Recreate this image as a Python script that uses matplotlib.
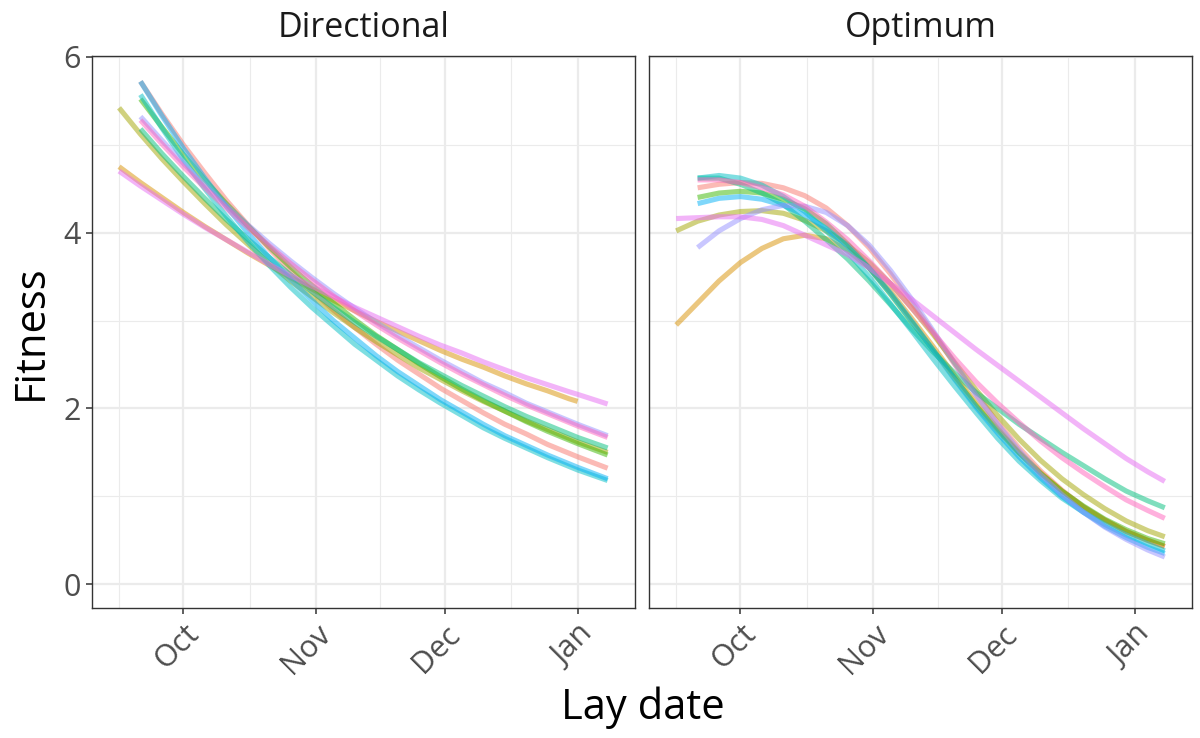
import numpy as np
import matplotlib
matplotlib.use("Agg")
import matplotlib.pyplot as plt
import matplotlib.dates as mdates

plt.rcParams['font.family'] = ['Open Sans', 'DejaVu Sans']

nan = np.nan

first_day = np.datetime64('2019-09-16')

# days after 16 Sep at which the fitted curves were read
dir_days = [0, 5, 10, 15, 20, 25, 30, 35, 40, 45, 50, 55, 60, 65, 70, 75, 80, 85, 90, 95, 100, 105, 107, 114]
opt_days = [0, 5, 10, 15, 20, 25, 30, 35, 40, 45, 50, 55, 60, 65, 70, 75, 80, 85, 90, 95, 100, 105, 110, 114]

# ggplot hue palette, one colour per group
group_colors = ['#F8766D', '#D89000', '#A3A500', '#39B600', '#00BF7D',
                '#00BFC4', '#00B0F6', '#9590FF', '#E76BF3', '#FF62BC']

# Directional panel
dir_g1 = [nan, 5.72, 5.35, 5.00, 4.68, 4.37, 4.09, 3.82, 3.57, 3.34, 3.12, 2.92, 2.73, 2.55,
          2.39, 2.23, 2.09, 1.95, 1.82, 1.71, 1.59, 1.49, 1.45, 1.32]
dir_g2 = [4.75, 4.57, 4.40, 4.23, 4.07, 3.92, 3.77, 3.63, 3.49, 3.36, 3.23, 3.11, 2.99, 2.88,
          2.77, 2.66, 2.56, 2.47, 2.37, 2.28, 2.20, 2.11, 2.08, nan]
dir_g3 = [5.42, 5.12, 4.84, 4.58, 4.33, 4.09, 3.87, 3.65, 3.45, 3.27, 3.09, 2.92, 2.76, 2.61,
          2.46, 2.33, 2.20, 2.08, 1.97, 1.86, 1.76, 1.66, 1.62, 1.50]
dir_g4 = [nan, 5.52, 5.20, 4.89, 4.60, 4.33, 4.08, 3.84, 3.61, 3.40, 3.20, 3.01, 2.83, 2.67,
          2.51, 2.36, 2.22, 2.09, 1.97, 1.85, 1.74, 1.64, 1.60, 1.47]
dir_g5 = [nan, 5.18, 4.90, 4.64, 4.39, 4.15, 3.93, 3.72, 3.52, 3.33, 3.15, 2.98, 2.82, 2.67,
          2.52, 2.39, 2.26, 2.14, 2.02, 1.91, 1.81, 1.71, 1.67, 1.55]
dir_g6 = [nan, 5.57, 5.19, 4.83, 4.50, 4.19, 3.90, 3.63, 3.38, 3.15, 2.94, 2.73, 2.55, 2.37,
          2.21, 2.06, 1.92, 1.78, 1.66, 1.55, 1.44, 1.34, 1.30, 1.18]
dir_g7 = [nan, 5.72, 5.33, 4.96, 4.62, 4.30, 4.00, 3.72, 3.47, 3.23, 3.00, 2.80, 2.60, 2.42,
          2.26, 2.10, 1.96, 1.82, 1.69, 1.58, 1.47, 1.37, 1.33, 1.20]
dir_g8 = [nan, 5.32, 5.05, 4.79, 4.54, 4.31, 4.09, 3.88, 3.68, 3.49, 3.31, 3.14, 2.98, 2.83,
          2.69, 2.55, 2.42, 2.29, 2.18, 2.06, 1.96, 1.86, 1.82, 1.69]
dir_g9 = [4.70, 4.53, 4.37, 4.21, 4.06, 3.92, 3.78, 3.64, 3.51, 3.39, 3.27, 3.15, 3.04, 2.93,
          2.82, 2.72, 2.63, 2.53, 2.44, 2.35, 2.27, 2.19, 2.16, 2.05]
dir_g10 = [nan, 5.28, 5.01, 4.75, 4.51, 4.28, 4.06, 3.85, 3.65, 3.46, 3.28, 3.11, 2.95, 2.80,
           2.66, 2.52, 2.39, 2.27, 2.15, 2.04, 1.94, 1.84, 1.80, 1.67]

# Optimum panel
opt_g1 = [nan, 4.51, 4.55, 4.57, 4.56, 4.51, 4.42, 4.28, 4.08, 3.83, 3.53, 3.20, 2.86, 2.50,
          2.16, 1.84, 1.55, 1.29, 1.07, 0.88, 0.73, 0.60, 0.50, 0.43]
opt_g2 = [2.95, 3.20, 3.45, 3.66, 3.82, 3.93, 3.97, 3.93, 3.80, 3.60, 3.33, 3.02, 2.70, 2.37,
          2.06, 1.77, 1.50, 1.27, 1.06, 0.88, 0.73, 0.60, 0.50, 0.43]
opt_g3 = [4.02, 4.13, 4.20, 4.24, 4.25, 4.22, 4.14, 4.02, 3.86, 3.66, 3.42, 3.14, 2.84, 2.52,
          2.21, 1.92, 1.65, 1.41, 1.20, 1.02, 0.86, 0.72, 0.61, 0.54]
opt_g4 = [nan, 4.40, 4.45, 4.47, 4.45, 4.38, 4.27, 4.10, 3.87, 3.60, 3.30, 2.98, 2.66, 2.34,
          2.03, 1.75, 1.49, 1.26, 1.06, 0.89, 0.74, 0.62, 0.52, 0.46]
opt_g5 = [nan, 4.62, 4.62, 4.55, 4.45, 4.32, 4.13, 3.92, 3.70, 3.45, 3.18, 2.90, 2.64, 2.40,
          2.18, 2.00, 1.82, 1.66, 1.50, 1.35, 1.20, 1.06, 0.95, 0.87]
opt_g6 = [nan, 4.62, 4.65, 4.62, 4.54, 4.41, 4.24, 4.02, 3.78, 3.50, 3.19, 2.88, 2.56, 2.25,
          1.95, 1.66, 1.40, 1.18, 0.98, 0.82, 0.68, 0.56, 0.46, 0.38]
opt_g7 = [nan, 4.33, 4.39, 4.41, 4.38, 4.31, 4.20, 4.05, 3.85, 3.60, 3.31, 2.99, 2.66, 2.33,
          2.01, 1.72, 1.45, 1.21, 1.00, 0.82, 0.66, 0.53, 0.42, 0.35]
opt_g8 = [nan, 3.83, 4.02, 4.16, 4.26, 4.31, 4.30, 4.23, 4.08, 3.86, 3.57, 3.24, 2.88, 2.51,
          2.15, 1.82, 1.52, 1.25, 1.02, 0.82, 0.65, 0.51, 0.39, 0.31]
opt_g9 = [4.16, 4.17, 4.18, 4.18, 4.15, 4.08, 3.97, 3.86, 3.75, 3.60, 3.42, 3.24, 3.05, 2.86,
          2.67, 2.49, 2.31, 2.13, 1.95, 1.77, 1.60, 1.43, 1.28, 1.17]
opt_g10 = [nan, 4.60, 4.60, 4.57, 4.51, 4.43, 4.30, 4.12, 3.92, 3.68, 3.42, 3.14, 2.86, 2.57,
           2.30, 2.06, 1.84, 1.63, 1.44, 1.27, 1.11, 0.96, 0.84, 0.75]

panels = [
    ("Directional", dir_days,
     [dir_g1, dir_g2, dir_g3, dir_g4, dir_g5, dir_g6, dir_g7, dir_g8, dir_g9, dir_g10]),
    ("Optimum", opt_days,
     [opt_g1, opt_g2, opt_g3, opt_g4, opt_g5, opt_g6, opt_g7, opt_g8, opt_g9, opt_g10]),
]

month_ticks = np.array(['2019-10-01', '2019-11-01', '2019-12-01', '2020-01-01'], dtype='datetime64[D]')
month_labels = ['Oct', 'Nov', 'Dec', 'Jan']

fig = plt.figure(figsize=(12, 7.38), dpi=100)

x_major = mdates.date2num(month_ticks)
x_minor = np.concatenate([[x_major[0] - 15], (x_major[:-1] + x_major[1:]) / 2])
x_lo = x_major[0] - 21.3
x_hi = x_major[-1] + 13.4

grey20 = '#333333'
for i, (name, days, series) in enumerate(panels):
    left = [0.0767, 0.5410][i]
    ax = fig.add_axes([left, 0.1762, 0.4525, 0.748])
    x = mdates.date2num(first_day + np.array(days, dtype='timedelta64[D]'))
    for vals, col in zip(series, group_colors):
        ax.plot(x, vals, color=col, alpha=0.5, lw=3.7, solid_capstyle='butt')

    ax.set_xlim(x_lo, x_hi)
    ax.set_ylim(-0.27, 6.01)
    ax.set_xticks(x_major)
    ax.set_xticklabels(month_labels)
    ax.set_xticks(x_minor, minor=True)
    ax.set_yticks([0, 2, 4, 6])
    ax.set_yticks([1, 3, 5], minor=True)

    ax.grid(which='major', color='#EBEBEB', lw=1.6)
    ax.grid(which='minor', color='#EBEBEB', lw=0.8)
    ax.set_axisbelow(True)
    for sp in ax.spines.values():
        sp.set_color(grey20)
        sp.set_linewidth(1.0)

    ax.tick_params(which='major', length=4.5, width=1.1, color=grey20,
                   labelsize=22, labelcolor='#4D4D4D')
    ax.tick_params(which='minor', length=0)
    for lab in ax.get_xticklabels():
        lab.set_rotation(45)
        lab.set_ha('right')
        lab.set_va('top')
        lab.set_rotation_mode('anchor')
    if i == 1:
        ax.tick_params(axis='y', which='both', left=False, labelleft=False)

    ax.text(0.5, 1.051, name, transform=ax.transAxes, ha='center', va='center',
            fontsize=24.5, color='#1A1A1A')

fig.text(0.026, 0.55, "Fitness", rotation=90, ha='center', va='center', fontsize=30)
fig.text(0.536, 0.041, "Lay date", ha='center', va='center', fontsize=30)

fig.savefig("out.png", dpi=100)
